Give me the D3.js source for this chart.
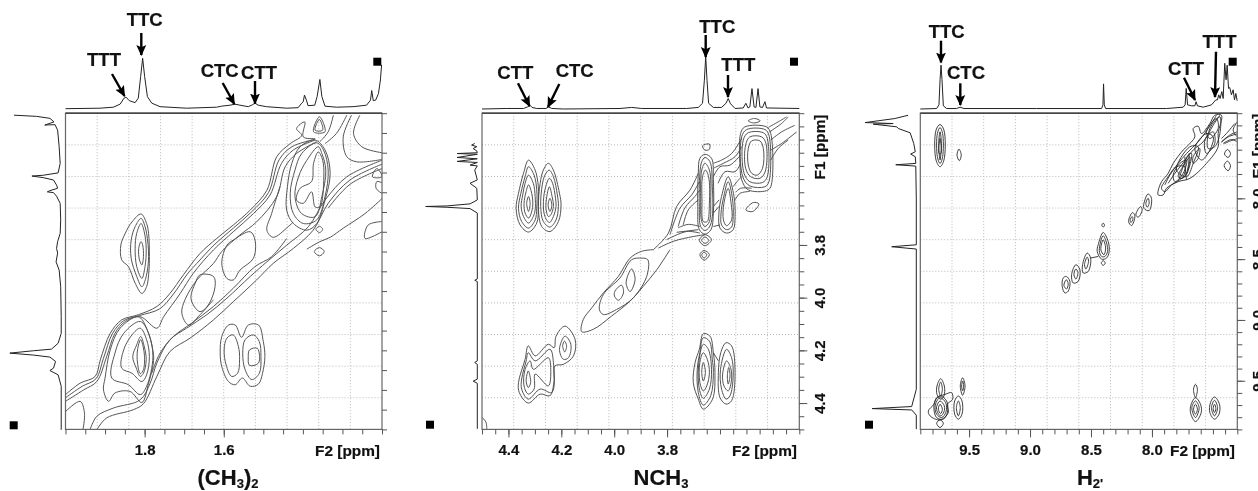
<!DOCTYPE html>
<html>
<head>
<meta charset="utf-8">
<script src="https://cdn.jsdelivr.net/npm/d3@7"></script>
<style>
html, body { margin: 0; padding: 0; background: #fff; overflow: hidden; }
svg { display: block; filter: blur(0.35px); }
text { font-family: "Liberation Sans", Arial, sans-serif; font-weight: bold; fill: #111; stroke: #111; stroke-width: 0.2px; }
</style>
</head>
<body>
<div id="chart"></div>
<script>
// ---- (CH3)2 panel, ppm
var topPpmA = [2.000,1.913,1.879,1.862,1.852,1.847,1.839,1.824,1.816,1.810,1.805,1.800,1.793,1.782,1.761,1.694,1.618,1.606,1.584,1.572,1.559,1.538,1.527,1.521,1.513,1.492,1.441,1.412,1.403,1.399,1.396,1.391,1.387,1.370,1.364,1.357,1.352,1.344,1.315,1.273,1.239,1.229,1.226,1.222,1.216,1.209,1.204,1.201];
var topIntA = [0,1,3,9,21,23,16,12,21,64,100,64,24,11,4,1,3,5,7,9,7,4,8,11,7,4,1,2,11,14,27,17,6,7,24,58,24,5,3,4,7,17,36,16,17,30,57,87];
var leftPpmA = [1.205,1.208,1.213,1.222,1.230,1.229,1.243,1.285,1.327,1.351,1.357,1.359,1.363,1.369,1.382,1.390,1.396,1.399,1.401,1.410,1.428,1.470,1.504,1.525,1.542,1.554,1.576,1.597,1.639,1.714,1.757,1.782,1.797,1.801,1.807,1.812,1.817,1.828,1.845,1.851,1.862,1.891,2.001];
var leftIntA = [91,47,21,13,31,11,6,3,1,5,34,56,34,14,8,6,21,26,14,8,1,0,1,6,8,6,9,3,0,-1,-1,5,18,53,99,53,21,10,14,21,5,-1,-1];
var closedA = [
[[1.809,1.455],[1.832,1.475],[1.849,1.504],[1.860,1.533],[1.858,1.571],[1.841,1.588],[1.824,1.630],[1.807,1.656],[1.795,1.639],[1.789,1.597],[1.788,1.563],[1.790,1.504],[1.795,1.479]],
[[1.809,1.466],[1.824,1.487],[1.834,1.521],[1.834,1.567],[1.820,1.613],[1.807,1.639],[1.796,1.613],[1.790,1.563],[1.795,1.504],[1.803,1.475]],
[[1.809,1.479],[1.820,1.504],[1.824,1.542],[1.820,1.588],[1.807,1.618],[1.799,1.588],[1.796,1.542],[1.801,1.500]],
[[1.809,1.525],[1.815,1.542],[1.813,1.571],[1.807,1.584],[1.803,1.563],[1.805,1.533]],
[[1.555,1.767],[1.538,1.736],[1.512,1.736],[1.500,1.778],[1.496,1.816],[1.502,1.858],[1.512,1.885],[1.533,1.891],[1.553,1.870],[1.571,1.887],[1.588,1.879],[1.605,1.841],[1.609,1.807],[1.605,1.765],[1.588,1.736],[1.571,1.736]],
[[1.576,1.761],[1.563,1.790],[1.560,1.824],[1.565,1.858],[1.580,1.866],[1.594,1.837],[1.599,1.799],[1.592,1.769]],
[[1.525,1.761],[1.510,1.778],[1.506,1.816],[1.510,1.858],[1.529,1.874],[1.546,1.849],[1.552,1.807],[1.546,1.773]],
[[1.535,1.799],[1.515,1.795],[1.512,1.832],[1.535,1.838],[1.538,1.816]],
[[1.904,1.900],[1.900,1.870],[1.887,1.799],[1.862,1.744],[1.816,1.715],[1.795,1.744],[1.778,1.807],[1.778,1.832],[1.790,1.883],[1.807,1.932],[1.837,1.904],[1.875,1.908],[1.891,1.929]],
[[1.883,1.870],[1.875,1.807],[1.853,1.757],[1.811,1.727],[1.790,1.757],[1.779,1.816],[1.795,1.891],[1.811,1.912],[1.841,1.887]],
[[1.858,1.845],[1.853,1.799],[1.832,1.761],[1.811,1.744],[1.795,1.773],[1.788,1.816],[1.795,1.862],[1.807,1.879],[1.832,1.858]],
[[1.830,1.816],[1.820,1.786],[1.810,1.765],[1.801,1.790],[1.796,1.824],[1.803,1.858],[1.811,1.866],[1.821,1.845]],
[[1.818,1.799],[1.810,1.773],[1.801,1.807],[1.803,1.849],[1.811,1.859],[1.818,1.832]],
[[1.660,1.609],[1.626,1.613],[1.622,1.639],[1.639,1.685],[1.660,1.702],[1.677,1.685],[1.683,1.664],[1.672,1.630]],
[[1.605,1.580],[1.592,1.534],[1.576,1.521],[1.533,1.500],[1.521,1.521],[1.525,1.567],[1.559,1.597],[1.576,1.622],[1.592,1.618]],
[[1.369,1.268],[1.407,1.285],[1.428,1.327],[1.439,1.386],[1.441,1.445],[1.424,1.479],[1.390,1.496],[1.365,1.479],[1.344,1.420],[1.331,1.352],[1.344,1.293]],
[[1.365,1.275],[1.403,1.302],[1.420,1.344],[1.432,1.403],[1.424,1.454],[1.399,1.479],[1.365,1.470],[1.344,1.411],[1.336,1.344],[1.348,1.293]],
[[1.361,1.285],[1.390,1.319],[1.411,1.361],[1.420,1.411],[1.403,1.454],[1.369,1.462],[1.352,1.411],[1.342,1.344],[1.352,1.302]],
[[1.361,1.298],[1.373,1.327],[1.378,1.373],[1.407,1.390],[1.416,1.420],[1.399,1.428],[1.378,1.399],[1.369,1.437],[1.357,1.437],[1.347,1.361],[1.350,1.319]],
[[1.358,1.216],[1.350,1.243],[1.369,1.243],[1.365,1.226]],
[[1.358,1.209],[1.344,1.247],[1.373,1.247]],
[[1.358,1.486],[1.350,1.494],[1.358,1.502],[1.367,1.494]],
[[1.358,1.540],[1.346,1.550],[1.358,1.561],[1.371,1.550]],
[[1.213,1.340],[1.200,1.361],[1.224,1.361]]
];
var openA = [
[[2.000,1.912],[1.963,1.883],[1.925,1.866],[1.912,1.824],[1.887,1.757],[1.858,1.723],[1.816,1.710],[1.769,1.689],[1.736,1.656],[1.702,1.609],[1.660,1.555],[1.618,1.517],[1.576,1.483],[1.533,1.445],[1.491,1.395],[1.466,1.310],[1.432,1.277],[1.403,1.256],[1.416,1.239],[1.395,1.222],[1.399,1.260],[1.369,1.264]],
[[2.000,1.920],[1.958,1.891],[1.923,1.872],[1.904,1.820],[1.881,1.757],[1.853,1.725],[1.813,1.712],[1.762,1.695],[1.729,1.660],[1.692,1.607],[1.668,1.580],[1.622,1.531],[1.576,1.491],[1.529,1.449],[1.487,1.401],[1.460,1.318],[1.428,1.285],[1.369,1.266]],
[[2.000,1.929],[1.954,1.900],[1.921,1.879],[1.896,1.816],[1.875,1.757],[1.849,1.727],[1.811,1.715],[1.769,1.744],[1.752,1.715],[1.710,1.656],[1.677,1.605],[1.626,1.546],[1.576,1.500],[1.525,1.454],[1.483,1.407],[1.454,1.327],[1.424,1.293],[1.369,1.268]],
[[1.626,1.672],[1.660,1.710],[1.689,1.736],[1.706,1.706],[1.698,1.672],[1.668,1.622],[1.626,1.580],[1.605,1.550],[1.559,1.508],[1.517,1.475],[1.466,1.411],[1.445,1.336],[1.416,1.302],[1.365,1.272]],
[[1.921,2.001],[1.896,1.971],[1.828,1.950],[1.803,1.935],[1.769,1.866],[1.736,1.803],[1.685,1.769],[1.626,1.723],[1.576,1.677],[1.517,1.622],[1.475,1.580],[1.424,1.542],[1.374,1.496],[1.336,1.428],[1.281,1.369],[1.200,1.329]],
[[1.938,2.001],[1.921,1.967],[1.879,1.946],[1.811,1.925],[1.786,1.883],[1.769,1.832],[1.736,1.773],[1.694,1.744],[1.643,1.710],[1.592,1.668],[1.533,1.613],[1.491,1.576],[1.441,1.534],[1.386,1.487],[1.344,1.420],[1.289,1.361],[1.200,1.319]],
[[2.000,1.955],[1.963,1.929],[1.952,1.959],[1.956,2.001]],
[[1.782,1.858],[1.761,1.807],[1.727,1.765],[1.681,1.731],[1.626,1.689],[1.576,1.643],[1.521,1.588],[1.479,1.563],[1.441,1.517]],
[[1.336,1.440],[1.281,1.380],[1.200,1.340]],
[[1.323,1.205],[1.336,1.247],[1.357,1.272]],
[[1.289,1.205],[1.315,1.251],[1.344,1.277]],
[[1.277,1.205],[1.298,1.260],[1.289,1.310],[1.264,1.323],[1.200,1.317]],
[[1.256,1.205],[1.272,1.251],[1.251,1.285],[1.200,1.300]],
[[1.200,1.376],[1.213,1.373],[1.215,1.390],[1.200,1.403]],
[[1.200,1.416],[1.243,1.454],[1.298,1.491],[1.331,1.514],[1.357,1.525],[1.390,1.544]],
[[1.200,1.474],[1.235,1.483],[1.243,1.517],[1.200,1.500]],
[[1.458,1.386],[1.479,1.454],[1.491,1.496],[1.475,1.514],[1.437,1.487],[1.424,1.475]]
];

// ---- NCH3 panel, ppm
var topPpmB = [4.500,4.406,4.343,4.328,4.318,4.311,4.293,4.258,4.248,4.236,4.192,3.978,3.934,3.896,3.726,3.682,3.666,3.659,3.654,3.649,3.643,3.625,3.594,3.577,3.569,3.560,3.543,3.512,3.502,3.494,3.487,3.479,3.471,3.464,3.456,3.449,3.439,3.430,3.424,3.300];
var topIntB = [0,1,1,4,7,3,1,1,4,1,0,1,3,1,1,3,11,55,100,55,11,3,3,11,20,10,1,2,11,2,4,39,4,3,39,4,3,14,2,1];
var leftPpmB = [3.415,3.421,3.427,3.434,3.443,3.450,3.453,3.456,3.468,3.473,3.483,3.487,3.497,3.500,3.516,3.553,3.566,3.585,3.629,3.644,3.652,3.654,3.657,3.662,3.679,3.929,3.934,3.939,4.240,4.246,4.253,4.309,4.317,4.325,4.498];
var leftIntB = [5,11,1,8,1,0,39,0,39,0,39,0,14,0,5,0,14,1,0,14,59,100,59,14,0,0,5,0,0,5,0,0,8,0,0];
var closedB = [
[[4.324,3.478],[4.299,3.516],[4.287,3.579],[4.287,3.654],[4.293,3.717],[4.324,3.751],[4.356,3.724],[4.371,3.661],[4.362,3.604],[4.343,3.528]],
[[4.324,3.503],[4.303,3.535],[4.293,3.591],[4.293,3.661],[4.299,3.705],[4.324,3.736],[4.350,3.711],[4.362,3.661],[4.353,3.604],[4.337,3.541]],
[[4.324,3.535],[4.306,3.566],[4.299,3.616],[4.299,3.667],[4.306,3.692],[4.324,3.717],[4.343,3.692],[4.352,3.654],[4.346,3.610],[4.337,3.566]],
[[4.324,3.572],[4.312,3.604],[4.308,3.648],[4.316,3.686],[4.324,3.698],[4.337,3.679],[4.341,3.642],[4.333,3.597]],
[[4.324,3.616],[4.318,3.642],[4.324,3.673],[4.331,3.642]],
[[4.249,3.490],[4.230,3.516],[4.207,3.604],[4.201,3.648],[4.211,3.711],[4.243,3.749],[4.274,3.730],[4.287,3.654],[4.280,3.566],[4.268,3.516]],
[[4.246,3.516],[4.230,3.541],[4.215,3.610],[4.211,3.654],[4.220,3.705],[4.243,3.732],[4.268,3.711],[4.278,3.654],[4.272,3.572],[4.262,3.535]],
[[4.245,3.547],[4.233,3.566],[4.222,3.623],[4.220,3.654],[4.230,3.692],[4.245,3.715],[4.262,3.692],[4.268,3.648],[4.262,3.591]],
[[4.245,3.579],[4.235,3.616],[4.230,3.654],[4.240,3.686],[4.249,3.692],[4.258,3.661],[4.255,3.616]],
[[4.243,3.623],[4.236,3.648],[4.243,3.673],[4.250,3.648]],
[[3.657,3.456],[3.632,3.471],[3.625,3.553],[3.625,3.679],[3.634,3.742],[3.657,3.759],[3.678,3.742],[3.684,3.654],[3.682,3.528],[3.676,3.471]],
[[3.657,3.468],[3.638,3.484],[3.629,3.579],[3.629,3.692],[3.640,3.732],[3.657,3.745],[3.673,3.730],[3.678,3.654],[3.676,3.528],[3.669,3.484]],
[[3.657,3.490],[3.640,3.516],[3.635,3.629],[3.640,3.711],[3.657,3.730],[3.669,3.711],[3.673,3.629],[3.669,3.516]],
[[3.655,3.516],[3.643,3.541],[3.640,3.642],[3.648,3.711],[3.663,3.711],[3.668,3.629],[3.666,3.541]],
[[3.569,3.541],[3.547,3.616],[3.543,3.692],[3.550,3.742],[3.575,3.755],[3.600,3.736],[3.604,3.679],[3.594,3.616]],
[[3.569,3.560],[3.553,3.623],[3.550,3.692],[3.556,3.732],[3.575,3.742],[3.594,3.724],[3.596,3.679],[3.587,3.623]],
[[3.569,3.585],[3.558,3.642],[3.556,3.705],[3.575,3.727],[3.587,3.705],[3.585,3.642]],
[[3.506,3.352],[3.424,3.352],[3.408,3.377],[3.408,3.579],[3.424,3.594],[3.493,3.591],[3.518,3.553],[3.524,3.503],[3.522,3.377]],
[[3.499,3.362],[3.430,3.362],[3.415,3.383],[3.415,3.560],[3.430,3.579],[3.487,3.576],[3.514,3.541],[3.518,3.390]],
[[3.493,3.374],[3.436,3.374],[3.421,3.396],[3.421,3.541],[3.439,3.563],[3.487,3.560],[3.509,3.528],[3.512,3.402]],
[[3.487,3.390],[3.442,3.390],[3.426,3.415],[3.429,3.522],[3.449,3.547],[3.484,3.541],[3.503,3.509],[3.503,3.421]],
[[3.480,3.405],[3.449,3.405],[3.436,3.434],[3.439,3.509],[3.459,3.535],[3.480,3.528],[3.493,3.497],[3.493,3.434]],
[[3.493,3.329],[3.470,3.320],[3.448,3.329],[3.470,3.337]],
[[3.666,3.424],[3.640,3.417],[3.640,3.437],[3.657,3.440]],
[[3.502,3.667],[3.474,3.639],[3.453,3.644],[3.476,3.673]],
[[3.657,3.761],[3.632,3.780],[3.657,3.803],[3.678,3.783]],
[[3.657,3.770],[3.642,3.783],[3.657,3.794],[3.669,3.783]],
[[3.660,3.821],[3.640,3.837],[3.660,3.858],[3.676,3.837]],
[[3.660,3.828],[3.650,3.837],[3.660,3.850],[3.669,3.837]],
[[4.056,4.045],[4.041,3.988],[3.978,3.925],[3.934,3.856],[3.896,3.850],[3.873,3.856],[3.877,3.919],[3.928,4.001],[3.991,4.045],[4.041,4.064]],
[[3.997,3.975],[3.972,3.953],[3.965,3.982],[3.984,4.010],[3.999,3.994]],
[[3.934,3.891],[3.921,3.931],[3.940,3.977],[3.955,3.944]],
[[4.325,4.183],[4.299,4.221],[4.249,4.177],[4.227,4.190],[4.220,4.146],[4.186,4.108],[4.148,4.158],[4.154,4.221],[4.192,4.253],[4.224,4.259],[4.228,4.322],[4.243,4.372],[4.280,4.366],[4.325,4.400],[4.359,4.360],[4.362,4.322],[4.337,4.234]],
[[4.325,4.209],[4.299,4.240],[4.243,4.196],[4.230,4.246],[4.236,4.360],[4.280,4.347],[4.325,4.385],[4.350,4.347],[4.350,4.309],[4.333,4.240]],
[[4.318,4.240],[4.306,4.272],[4.249,4.228],[4.240,4.272],[4.249,4.335],[4.299,4.290],[4.303,4.347],[4.325,4.366],[4.341,4.335],[4.337,4.272]],
[[4.325,4.278],[4.316,4.322],[4.325,4.341],[4.333,4.316]],
[[4.186,4.146],[4.164,4.177],[4.173,4.228],[4.192,4.234],[4.207,4.196]],
[[4.188,4.165],[4.180,4.183],[4.187,4.206],[4.195,4.183]],
[[3.663,4.137],[3.638,4.146],[3.625,4.209],[3.619,4.284],[3.628,4.385],[3.663,4.423],[3.682,4.385],[3.701,4.322],[3.694,4.246],[3.678,4.196]],
[[3.663,4.152],[3.640,4.165],[3.629,4.234],[3.625,4.284],[3.635,4.372],[3.663,4.408],[3.682,4.360],[3.686,4.272],[3.676,4.209]],
[[3.663,4.177],[3.644,4.196],[3.632,4.272],[3.640,4.347],[3.663,4.382],[3.678,4.347],[3.681,4.259]],
[[3.663,4.209],[3.648,4.234],[3.640,4.284],[3.650,4.335],[3.663,4.354],[3.676,4.322],[3.676,4.246]],
[[3.663,4.246],[3.655,4.284],[3.663,4.316],[3.669,4.284]],
[[3.577,4.171],[3.556,4.183],[3.543,4.284],[3.556,4.391],[3.577,4.404],[3.600,4.379],[3.606,4.284],[3.597,4.209]],
[[3.575,4.196],[3.556,4.228],[3.550,4.297],[3.562,4.372],[3.577,4.385],[3.594,4.347],[3.598,4.272]],
[[3.575,4.240],[3.560,4.265],[3.556,4.309],[3.569,4.354],[3.585,4.335],[3.590,4.290]],
[[3.567,4.265],[3.562,4.297],[3.569,4.328],[3.572,4.297]]
];
var openB = [
[[3.852,3.818],[3.795,3.755],[3.764,3.654],[3.713,3.591],[3.682,3.528]],
[[3.789,3.761],[3.751,3.660],[3.707,3.610],[3.678,3.560]],
[[3.758,3.730],[3.733,3.660],[3.695,3.616],[3.676,3.591]],
[[3.739,3.724],[3.720,3.667],[3.682,3.629]],
[[3.802,3.780],[3.726,3.749],[3.676,3.755]],
[[3.833,3.812],[3.776,3.786],[3.701,3.768],[3.657,3.761]],
[[3.764,3.752],[3.682,3.742]],
[[3.758,3.735],[3.720,3.722],[3.676,3.730]],
[[3.625,3.490],[3.594,3.478],[3.556,3.453],[3.518,3.396]],
[[3.625,3.509],[3.587,3.490],[3.543,3.465],[3.518,3.427]],
[[3.625,3.541],[3.600,3.503],[3.562,3.497],[3.522,3.459]],
[[3.607,3.566],[3.581,3.522],[3.543,3.522],[3.522,3.491]],
[[3.543,3.629],[3.524,3.604],[3.487,3.597]],
[[3.540,3.600],[3.522,3.585],[3.480,3.585]],
[[3.550,3.579],[3.530,3.553],[3.518,3.541]],
[[3.625,3.654],[3.603,3.629]],
[[3.625,3.679],[3.604,3.654]],
[[3.625,3.730],[3.600,3.724]],
[[3.417,3.354],[3.380,3.333],[3.348,3.314]],
[[3.413,3.371],[3.367,3.339],[3.342,3.314]],
[[3.408,3.402],[3.367,3.371],[3.317,3.346]],
[[3.408,3.440],[3.367,3.415],[3.310,3.371]],
[[3.408,3.478],[3.380,3.434],[3.342,3.402]],
[[3.789,3.818],[3.839,3.894],[3.890,3.957],[3.940,4.013],[4.010,4.070],[4.079,4.120],[4.123,4.129],[4.117,4.083],[4.085,4.039],[4.041,3.982],[3.984,3.919],[3.940,3.850],[3.896,3.824],[3.852,3.818]],
[[3.625,4.209],[3.606,4.240]],
[[4.500,4.454],[4.485,4.473],[4.482,4.498]]
];

// ---- H2' panel, ppm
var topPpmC = [9.900,9.766,9.747,9.738,9.730,9.722,9.711,9.684,9.602,9.574,9.542,8.946,8.413,8.402,8.397,8.391,8.380,7.881,7.744,7.728,7.719,7.708,7.676,7.648,7.638,7.627,7.580,7.512,7.476,7.463,7.452,7.441,7.427,7.416,7.403,7.392,7.383,7.372,7.362,7.348,7.334,7.323,7.312,7.301];
var topIntC = [0,1,9,64,96,64,7,1,1,4,1,1,1,9,55,9,1,1,4,9,45,9,7,7,16,7,4,9,20,20,31,23,38,23,100,64,96,45,47,31,42,20,34,18];
var leftPpmC = [7.317,7.344,7.377,7.385,7.390,7.412,7.426,7.461,7.549,7.617,7.636,7.658,7.713,7.724,7.735,8.013,8.382,8.398,8.417,9.570,9.712,9.729,9.740,9.783,9.898];
var leftIntC = [16,42,100,45,84,38,35,12,5,2,11,2,1,40,1,0,0,48,0,0,9,86,9,0,0];
var closedC = [
[[9.738,7.393],[9.706,7.439],[9.706,7.685],[9.738,7.740],[9.771,7.685],[9.771,7.439]],
[[9.738,7.418],[9.717,7.467],[9.717,7.658],[9.738,7.713],[9.760,7.658],[9.760,7.467]],
[[9.738,7.453],[9.727,7.549],[9.738,7.685],[9.749,7.549]],
[[9.738,7.508],[9.730,7.631],[9.747,7.631]],
[[9.583,7.595],[9.564,7.644],[9.580,7.691],[9.599,7.644]],
[[9.733,9.483],[9.703,9.543],[9.706,9.625],[9.733,9.652],[9.763,9.612],[9.763,9.543]],
[[9.733,9.510],[9.719,9.570],[9.733,9.625],[9.749,9.570]],
[[9.738,9.625],[9.684,9.666],[9.678,9.762],[9.711,9.816],[9.766,9.803],[9.788,9.734],[9.779,9.666]],
[[9.738,9.639],[9.692,9.680],[9.689,9.756],[9.725,9.803],[9.766,9.775],[9.779,9.721],[9.771,9.680]],
[[9.738,9.666],[9.703,9.707],[9.706,9.756],[9.733,9.789],[9.760,9.756],[9.766,9.713]],
[[9.738,9.693],[9.719,9.734],[9.733,9.770],[9.752,9.734]],
[[9.643,9.598],[9.635,9.652],[9.678,9.693],[9.670,9.762],[9.738,9.822],[9.820,9.789],[9.834,9.748],[9.788,9.693],[9.766,9.639],[9.697,9.612]],
[[9.738,9.822],[9.711,9.849],[9.738,9.885],[9.766,9.849]],
[[9.588,9.625],[9.558,9.666],[9.558,9.775],[9.588,9.816],[9.618,9.775],[9.618,9.666]],
[[9.588,9.666],[9.572,9.721],[9.588,9.789],[9.604,9.721]],
[[9.553,9.475],[9.533,9.543],[9.553,9.620],[9.572,9.543]],
[[9.553,9.502],[9.544,9.543],[9.553,9.584],[9.561,9.543]],
[[7.643,9.639],[7.602,9.693],[7.596,9.762],[7.643,9.836],[7.684,9.762],[7.678,9.693]],
[[7.643,9.666],[7.613,9.721],[7.643,9.803],[7.673,9.721]],
[[7.643,9.693],[7.627,9.734],[7.643,9.775],[7.659,9.734]],
[[7.643,9.529],[7.627,9.570],[7.643,9.639],[7.659,9.570]],
[[7.487,9.633],[7.446,9.693],[7.450,9.775],[7.487,9.816],[7.525,9.762],[7.520,9.680]],
[[7.487,9.661],[7.462,9.721],[7.487,9.789],[7.512,9.721]],
[[7.487,9.693],[7.476,9.729],[7.487,9.762],[7.498,9.729]],
[[8.400,8.281],[8.359,8.355],[8.351,8.437],[8.372,8.491],[8.413,8.500],[8.449,8.437],[8.441,8.382]],
[[8.400,8.308],[8.372,8.368],[8.364,8.437],[8.386,8.478],[8.413,8.478],[8.432,8.429]],
[[8.400,8.341],[8.380,8.409],[8.394,8.464],[8.419,8.423]],
[[8.400,8.204],[8.389,8.221],[8.400,8.237],[8.411,8.221]],
[[8.400,8.513],[8.383,8.532],[8.400,8.551],[8.416,8.532]],
[[8.703,8.642],[8.673,8.683],[8.687,8.764],[8.714,8.778],[8.736,8.724],[8.728,8.655]],
[[8.703,8.669],[8.687,8.702],[8.700,8.745],[8.722,8.718]],
[[8.624,8.546],[8.591,8.587],[8.605,8.683],[8.646,8.696],[8.659,8.628]],
[[8.624,8.581],[8.607,8.609],[8.624,8.664],[8.640,8.628]],
[[8.531,8.450],[8.503,8.491],[8.523,8.601],[8.564,8.614],[8.569,8.546]],
[[8.531,8.483],[8.520,8.518],[8.542,8.581],[8.553,8.546]],
[[8.031,7.964],[8.004,7.999],[8.023,8.101],[8.066,8.082],[8.058,8.013]],
[[8.031,7.999],[8.023,8.041],[8.039,8.073],[8.050,8.041]],
[[8.094,8.068],[8.080,8.095],[8.113,8.155],[8.132,8.136]],
[[8.159,8.117],[8.140,8.144],[8.167,8.224],[8.192,8.191]],
[[8.162,8.150],[8.156,8.172],[8.173,8.199],[8.179,8.177]],
[[7.949,7.937],[7.921,7.863],[7.867,7.795],[7.826,7.713],[7.744,7.603],[7.716,7.576],[7.648,7.494],[7.662,7.426],[7.621,7.407],[7.594,7.467],[7.525,7.385],[7.485,7.317],[7.430,7.317],[7.457,7.467],[7.457,7.576],[7.553,7.713],[7.689,7.836],[7.785,7.863],[7.881,7.918],[7.908,7.972],[7.949,7.972]],
[[7.785,7.822],[7.730,7.713],[7.689,7.658],[7.716,7.795],[7.758,7.836]],
[[7.744,7.740],[7.703,7.644],[7.676,7.631],[7.689,7.726],[7.730,7.822],[7.771,7.836]],
[[7.826,7.808],[7.771,7.713],[7.716,7.685],[7.744,7.795],[7.812,7.863]],
[[7.662,7.658],[7.608,7.590],[7.621,7.672],[7.662,7.713]],
[[7.566,7.522],[7.498,7.453],[7.485,7.549],[7.553,7.631]],
[[7.553,7.453],[7.471,7.344],[7.457,7.426],[7.525,7.508]],
[[7.922,7.918],[7.867,7.822],[7.799,7.740],[7.730,7.740],[7.744,7.822],[7.840,7.890],[7.894,7.945]],
[[7.799,7.767],[7.689,7.576],[7.621,7.576],[7.662,7.713],[7.716,7.822]],
[[7.648,7.590],[7.553,7.467],[7.498,7.494],[7.525,7.603],[7.594,7.685]],
[[7.525,7.426],[7.443,7.330],[7.443,7.467],[7.485,7.576],[7.539,7.590]],
[[7.381,7.598],[7.356,7.631],[7.375,7.664],[7.405,7.636]],
[[7.381,7.694],[7.356,7.732],[7.375,7.773],[7.408,7.732]]
];
var openC = [
[[8.503,8.491],[8.441,8.478]],
[[7.894,7.890],[7.853,7.808],[7.785,7.713],[7.716,7.631],[7.621,7.535],[7.539,7.426],[7.471,7.317]],
[[7.867,7.877],[7.812,7.795],[7.758,7.726],[7.662,7.603],[7.580,7.535],[7.498,7.399],[7.443,7.317]],
[[7.730,7.658],[7.727,7.750],[7.716,7.850]],
[[7.695,7.630],[7.700,7.720],[7.716,7.800]],
[[7.430,7.535],[7.362,7.480],[7.301,7.453]],
[[7.430,7.540],[7.375,7.495],[7.301,7.470]],
[[7.405,7.550],[7.362,7.530],[7.301,7.510]],
[[7.416,7.549],[7.348,7.516],[7.301,7.535]],
[[7.430,7.508],[7.389,7.467],[7.321,7.385]],
[[7.301,7.371],[7.334,7.440],[7.301,7.494]]
];

// ---- tick values and annotations
var f2LabelsA = [1.8, 1.6], f2LabelsB = [4.4, 4.2, 4.0, 3.8], f2LabelsC = [9.5, 9.0, 8.5, 8.0];
var f1LabelsB = [3.8, 4.0, 4.2, 4.4], f1LabelsC = [8.0, 8.5, 9.0, 9.5];

var width = 1258, height = 491;

var svg = d3.select("#chart").append("svg")
  .attr("width", width)
  .attr("height", height);

svg.append("defs").append("marker")
  .attr("id", "head")
  .attr("markerUnits", "userSpaceOnUse")
  .attr("viewBox", "0 0 10 10")
  .attr("refX", 9).attr("refY", 5)
  .attr("markerWidth", 11).attr("markerHeight", 11)
  .attr("orient", "auto")
  .append("path")
  .attr("d", "M0,0.5L10,5L0,9.5L2,5Z")
  .attr("fill", "#000");

var panels = [
  {
    left: 65.5, right: 382, f2: [2.0, 1.2], f1: [1.2, 2.0], step: 0.05, major: 0.2,
    f2Labels: f2LabelsA, f1Labels: [], top: [topPpmA, topIntA], side: [leftPpmA, leftIntA],
    closed: closedA, open: openA, spectrumTop: 58.3, spectrumBase: 108.7, sideBase: 60.7, sidePeak: 9.3,
    contourColor: "#555", contourWidth: 1,
    f2Unit: 380,
    names: [
      {name: "TTT", x: 104, y: 66, from: [112, 74], to: [124.5, 96]},
      {name: "TTC", x: 144.7, y: 26, from: [141.3, 33], to: [141.3, 55]},
      {name: "CTC", x: 219.7, y: 77, from: [222.7, 83], to: [234.3, 104]},
      {name: "CTT", x: 259, y: 79, from: [255, 81], to: [255, 103.5]}
    ],
    squares: [[377.3, 61.7], [13.7, 425.3]],
    title: [["(CH", 0], ["3", 1], [")", 0], ["2", 1]], titleX: 228
  },
  {
    left: 482, right: 799.3, f2: [4.5, 3.3], f1: [3.3, 4.5], step: 0.05, major: 0.2,
    f2Labels: f2LabelsB, f1Labels: f1LabelsB, top: [topPpmB, topIntB], side: [leftPpmB, leftIntB],
    closed: closedB, open: openB, spectrumTop: 56.7, spectrumBase: 109, sideBase: 477.3, sidePeak: 425.7,
    contourColor: "#4a4a4a", contourWidth: 0.95,
    f2Unit: 797, f1Unit: 825, f1UnitY: 147,
    names: [
      {name: "CTT", x: 515.3, y: 78.7, from: [518, 83.3], to: [529.5, 106]},
      {name: "CTC", x: 574.7, y: 77, from: [559.3, 84], to: [548, 107]},
      {name: "TTC", x: 717.3, y: 33, from: [705.7, 35], to: [705.7, 57]},
      {name: "TTT", x: 738.3, y: 71, from: [728, 75], to: [728, 97]}
    ],
    squares: [[794, 61.7], [430, 424.7]],
    title: [["NCH", 0], ["3", 1]], titleX: 661
  },
  {
    left: 920.3, right: 1237.3, f2: [9.9, 7.3], f1: [7.3, 9.9], step: 0.1, major: 0.5,
    f2Labels: f2LabelsC, f1Labels: f1LabelsC, top: [topPpmC, topIntC], side: [leftPpmC, leftIntC],
    closed: closedC, open: openC, spectrumTop: 63.3, spectrumBase: 109, sideBase: 916.3, sidePeak: 865,
    contourColor: "#2a2a2a", contourWidth: 0.9,
    f2Unit: 1235, f1Unit: 1263, f1UnitY: 146,
    names: [
      {name: "TTC", x: 946.7, y: 37.7, from: [941, 40.7], to: [941, 62.5]},
      {name: "CTC", x: 966, y: 79, from: [960.3, 83.3], to: [960.3, 105]},
      {name: "CTT", x: 1186, y: 75.3, from: [1184, 77.7], to: [1195, 100]},
      {name: "TTT", x: 1219.5, y: 48, from: [1216, 51.7], to: [1215, 97]}
    ],
    squares: [[1232.7, 61.7], [869, 424.7]],
    title: [["H", 0], ["2'", 1]], titleX: 1090
  }
];

var frameTop = 113.2, frameBottom = 429.4;

panels.forEach(function(p) {
  var x = d3.scaleLinear().domain(p.f2).range([p.left, p.right]);
  var y = d3.scaleLinear().domain(p.f1).range([frameTop, frameBottom]);
  var g = svg.append("g");

  // dotted grid, ten sections per axis
  var fractions = d3.range(1, 10).map(function(i) { return i / 10; });
  g.selectAll(".gv").data(fractions).enter().append("line")
    .attr("x1", function(d) { return x(p.f2[0] + (p.f2[1] - p.f2[0]) * d); })
    .attr("x2", function(d) { return x(p.f2[0] + (p.f2[1] - p.f2[0]) * d); })
    .attr("y1", frameTop).attr("y2", frameBottom)
    .attr("stroke", "#b8b8b8").attr("stroke-width", 1).attr("stroke-dasharray", "1 2");
  g.selectAll(".gh").data(fractions).enter().append("line")
    .attr("y1", function(d) { return y(p.f1[0] + (p.f1[1] - p.f1[0]) * d); })
    .attr("y2", function(d) { return y(p.f1[0] + (p.f1[1] - p.f1[0]) * d); })
    .attr("x1", p.left).attr("x2", p.right)
    .attr("stroke", "#b8b8b8").attr("stroke-width", 1).attr("stroke-dasharray", "1 2");

  // contours, clipped by the frame
  var clipId = "clip" + Math.round(p.left);
  svg.select("defs").append("clipPath").attr("id", clipId).append("rect")
    .attr("x", p.left).attr("y", frameTop)
    .attr("width", p.right - p.left).attr("height", frameBottom - frameTop);
  var cg = g.append("g").attr("clip-path", "url(#" + clipId + ")")
    .attr("fill", "none").attr("stroke", p.contourColor).attr("stroke-width", p.contourWidth);
  var closedLine = d3.line().x(function(d) { return x(d[0]); }).y(function(d) { return y(d[1]); })
    .curve(d3.curveCatmullRomClosed.alpha(0.5));
  var openLine = d3.line().x(function(d) { return x(d[0]); }).y(function(d) { return y(d[1]); })
    .curve(d3.curveCatmullRom.alpha(0.5));
  cg.selectAll(".closed").data(p.closed).enter().append("path").attr("d", closedLine);
  cg.selectAll(".open").data(p.open).enter().append("path").attr("d", openLine);

  // frame
  g.append("rect")
    .attr("x", p.left).attr("y", frameTop)
    .attr("width", p.right - p.left).attr("height", frameBottom - frameTop)
    .attr("fill", "none").attr("stroke", "#666").attr("stroke-width", 1.2);
  g.append("line")
    .attr("x1", p.left).attr("x2", p.right).attr("y1", frameTop).attr("y2", frameTop)
    .attr("stroke", "#333").attr("stroke-width", 1.2);

  // axes
  var lo = Math.min(p.f2[0], p.f2[1]), hi = Math.max(p.f2[0], p.f2[1]);
  var minorF2 = d3.range(Math.round(lo / p.step), Math.round(hi / p.step) + 1).map(function(i) { return i * p.step; });
  var loY = Math.min(p.f1[0], p.f1[1]), hiY = Math.max(p.f1[0], p.f1[1]);
  var minorF1 = d3.range(Math.round(loY / p.step), Math.round(hiY / p.step) + 1).map(function(i) { return i * p.step; });

  var styleAxis = function(a) {
    a.select(".domain").remove();
    a.selectAll("line").attr("stroke", "#555").attr("stroke-width", 1);
    a.selectAll("text").style("font-size", "15px").attr("fill", "#111");
  };

  g.append("g").attr("transform", "translate(0," + frameBottom + ")")
    .call(d3.axisBottom(x).tickValues(minorF2).tickSize(5).tickFormat(""))
    .call(styleAxis);
  g.append("g").attr("transform", "translate(" + p.right + ",0)")
    .call(d3.axisRight(y).tickValues(minorF1).tickSize(5).tickFormat(""))
    .call(styleAxis);

  g.append("g").attr("transform", "translate(0," + frameBottom + ")")
    .call(d3.axisBottom(x).tickValues(p.f2Labels).tickSize(8).tickPadding(7).tickFormat(d3.format(".1f")))
    .call(styleAxis);

  var yLabels = g.append("g").attr("transform", "translate(" + p.right + ",0)")
    .call(d3.axisRight(y).tickValues(p.f1Labels).tickSize(8).tickFormat(d3.format(".1f")))
    .call(styleAxis);
  yLabels.selectAll("text")
    .attr("x", 0).attr("y", 0).attr("dy", 0)
    .style("text-anchor", "middle")
    .attr("transform", "translate(26,0) rotate(-90)");

  g.append("text").attr("x", p.f2Unit).attr("y", 456).attr("text-anchor", "end")
    .style("font-size", "15.4px").text("F2 [ppm]");
  if (p.f1Unit) {
    g.append("text")
      .attr("transform", "translate(" + p.f1Unit + "," + p.f1UnitY + ") rotate(-90)")
      .attr("text-anchor", "middle").style("font-size", "15.4px").text("F1 [ppm]");
  }

  // 1D projections
  var topY = d3.scaleLinear().domain([0, 100]).range([p.spectrumBase, p.spectrumTop]);
  var sideX = d3.scaleLinear().domain([0, 100]).range([p.sideBase, p.sidePeak]);
  g.append("path").datum(d3.zip(p.top[0], p.top[1]))
    .attr("fill", "none").attr("stroke", "#222").attr("stroke-width", 1)
    .attr("d", d3.line().x(function(d) { return x(d[0]); }).y(function(d) { return topY(d[1]); }));
  g.append("path").datum(d3.zip(p.side[0], p.side[1]))
    .attr("fill", "none").attr("stroke", "#222").attr("stroke-width", 1)
    .attr("d", d3.line().x(function(d) { return sideX(d[1]); }).y(function(d) { return y(d[0]); }));

  // isomer labels with arrows
  g.selectAll(".iso").data(p.names).enter().append("text")
    .attr("x", function(d) { return d.x; }).attr("y", function(d) { return d.y; })
    .attr("text-anchor", "middle").style("font-size", "18.5px")
    .text(function(d) { return d.name; });
  g.selectAll(".arrow").data(p.names).enter().append("line")
    .attr("x1", function(d) { return d.from[0]; }).attr("y1", function(d) { return d.from[1]; })
    .attr("x2", function(d) { return d.to[0]; }).attr("y2", function(d) { return d.to[1]; })
    .attr("stroke", "#000").attr("stroke-width", 2.4).attr("marker-end", "url(#head)");

  // corner squares
  g.selectAll(".sq").data(p.squares).enter().append("rect")
    .attr("x", function(d) { return d[0] - 4; }).attr("y", function(d) { return d[1] - 4; })
    .attr("width", 8).attr("height", 8).attr("fill", "#000");

  // panel title
  var t = g.append("text").attr("x", p.titleX).attr("y", 485).attr("text-anchor", "middle")
    .style("font-size", "22px");
  p.title.forEach(function(part, i) {
    var s = t.append("tspan").text(part[0]);
    if (part[1]) {
      s.attr("dy", 3).style("font-size", "13px");
    } else if (i > 0) {
      s.attr("dy", -3);
    }
  });
});
</script>
</body>
</html>
